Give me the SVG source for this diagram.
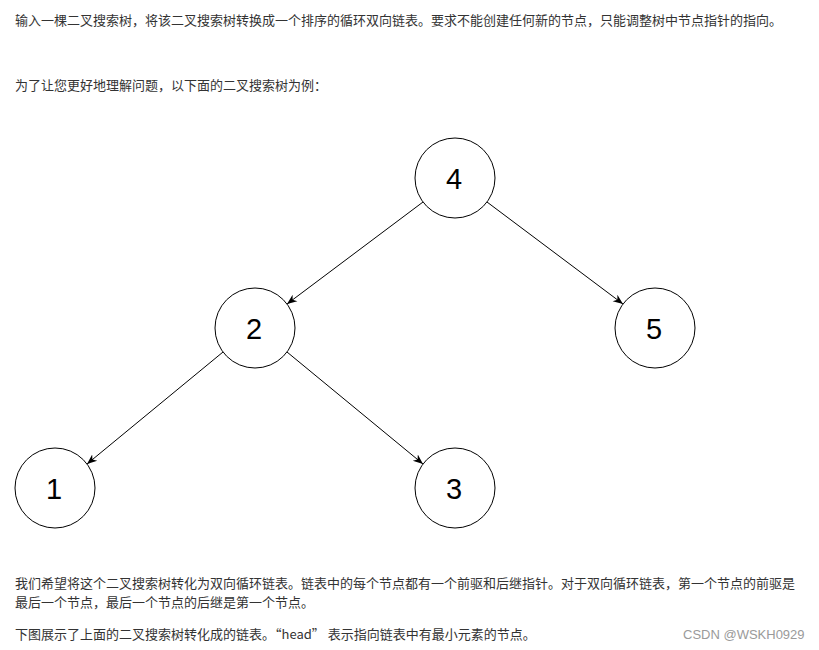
<svg xmlns="http://www.w3.org/2000/svg" width="819" height="650" viewBox="0 0 819 650">
<style>
.t{font-family:"Noto Sans CJK SC","Liberation Sans",sans-serif;font-size:13px;fill:#333}
.n circle{fill:#fff;stroke:#000;stroke-width:1}
.n text{font-family:"Liberation Sans",Arial,sans-serif;font-size:29px;fill:#000;text-anchor:middle}
.e line{stroke:#000;stroke-width:1;marker-end:url(#ah)}
.wm{font-family:"Liberation Sans",Arial,sans-serif;font-size:13px;fill:#9a9a9a}
</style>
<defs>
<marker id="ah" viewBox="0 0 10 10" refX="10" refY="5" markerWidth="10" markerHeight="10" markerUnits="userSpaceOnUse" orient="auto">
<path d="M0,1 L10,5 L0,9 L3,5 Z" fill="#000"/>
</marker>
</defs>
<rect width="819" height="650" fill="#fff"/>
<text class="t" x="15" y="25">输入一棵二叉搜索树，将该二叉搜索树转换成一个排序的循环双向链表。要求不能创建任何新的节点，只能调整树中节点指针的指向。</text>
<text class="t" x="15" y="90">为了让您更好地理解问题，以下面的二叉搜索树为例：</text>
<g class="e" id="edges">
<line x1="423" y1="202" x2="287" y2="304"/>
<line x1="487" y1="202" x2="623" y2="304"/>
<line x1="223" y1="352" x2="87" y2="464"/>
<line x1="287" y1="352" x2="423" y2="464"/>
</g>
<g class="n" id="n4"><circle cx="455" cy="178" r="40"/><text x="454" y="189">4</text></g>
<g class="n" id="n2"><circle cx="255" cy="328" r="40"/><text x="254" y="339">2</text></g>
<g class="n" id="n5"><circle cx="655" cy="328" r="40"/><text x="654" y="339">5</text></g>
<g class="n" id="n1"><circle cx="55" cy="488" r="40"/><text x="54" y="499">1</text></g>
<g class="n" id="n3"><circle cx="455" cy="488" r="40"/><text x="454" y="499">3</text></g>
<text class="t" x="15" y="588">我们希望将这个二叉搜索树转化为双向循环链表。链表中的每个节点都有一个前驱和后继指针。对于双向循环链表，第一个节点的前驱是</text>
<text class="t" x="15" y="607">最后一个节点，最后一个节点的后继是第一个节点。</text>
<text class="t" x="15" y="639">下图展示了上面的二叉搜索树转化成的链表。“head” 表示指向链表中有最小元素的节点。</text>
<text class="wm" x="683" y="639">CSDN @WSKH0929</text>
</svg>
